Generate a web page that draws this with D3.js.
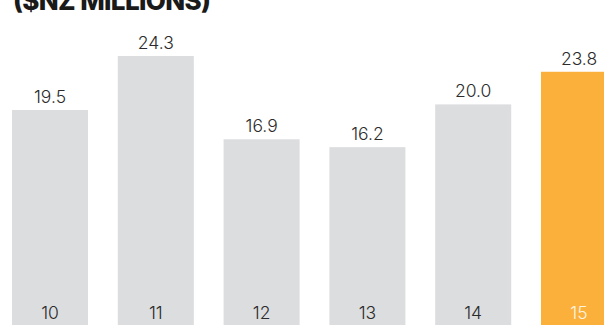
<!DOCTYPE html>
<html><head><meta charset="utf-8">
<script src="https://cdn.jsdelivr.net/npm/d3@7"></script>
<style>html,body{margin:0;padding:0;background:#fff;overflow:hidden}</style>
</head><body>
<svg id="c" width="604" height="325"></svg>
<script>
const categories = ["10","11","12","13","14","15"];
const valueLabels = ["19.5","24.3","16.9","16.2","20.0","23.8"];
// bar heights (the last bar is drawn shorter than its label)
const barValues = [19.5, 24.3, 16.9, 16.2, 20.0, 22.9];
const highlight = ["15"];
const title = "($NZ MILLIONS)";

const svg = d3.select("#c");
const W = 604, H = 325;
const x = d3.scaleBand().domain(categories).range([12, 617]).paddingInner(0.2817).paddingOuter(0);
const y = d3.scaleLinear().domain([0, 30]).range([329.4, -8.1]);

const font = "'Inter','Lato',sans-serif";
svg.append("text").attr("x", 13).attr("y", 10)
  .attr("font-family", "'Inter','DejaVu Sans',sans-serif").attr("font-weight", 800)
  .attr("font-size", 26).attr("fill", "#1a1a1a").attr("textLength", 198)
  .text(title);

const data = categories.map((c, i) => ({c, v: barValues[i], label: valueLabels[i]}));
const g = svg.append("g");
g.selectAll("rect").data(data).enter().append("rect")
  .attr("x", d => x(d.c)).attr("width", x.bandwidth())
  .attr("y", d => y(d.v)).attr("height", d => y(0) - y(d.v))
  .attr("fill", d => highlight.includes(d.c) ? "#fbb03b" : "#dcdddf");

g.selectAll("text.val").data(data).enter().append("text").attr("class","val")
  .attr("x", d => x(d.c) + x.bandwidth()/2).attr("y", d => y(d.v) - 7)
  .attr("text-anchor", "middle").attr("font-family", font).attr("font-weight", 300)
  .attr("font-size", 17.5).attr("fill", "#2b2b2b").text(d => d.label);

g.selectAll("text.cat").data(data).enter().append("text").attr("class","cat")
  .attr("x", d => x(d.c) + x.bandwidth()/2).attr("y", 319)
  .attr("text-anchor", "middle").attr("font-family", font).attr("font-weight", 300)
  .attr("font-size", 17.5).attr("fill", d => highlight.includes(d.c) ? "#fff4e0" : "#2b2b2b").text(d => d.c);
</script>
</body></html>
